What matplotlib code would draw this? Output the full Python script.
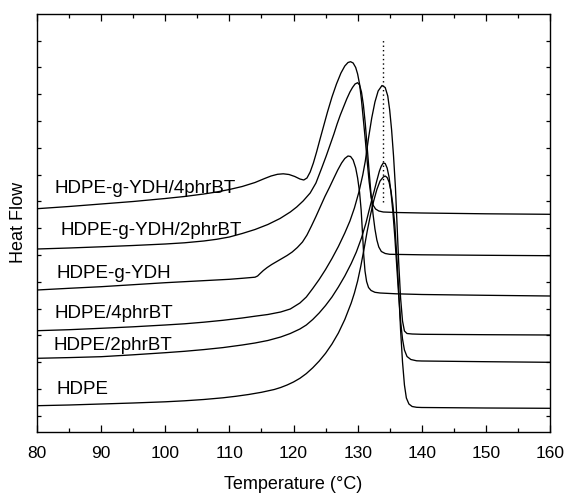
import matplotlib
matplotlib.use("Agg")
import matplotlib.pyplot as plt
import numpy as np
from matplotlib.ticker import MultipleLocator

plt.rcParams['font.family'] = ['Liberation Sans', 'DejaVu Sans']

# ---- data (temperature in degC, heat flow in arbitrary units) ----
T_ydh4 = [80, 85, 90, 95, 100, 103, 106, 108, 110, 112, 114, 115.5, 116.5, 117.5, 118.4, 119.3,
          120.2, 121, 121.6, 122.1, 122.6, 123.1, 123.6, 124.1, 124.7, 125.3, 126.0, 126.7,
          127.4, 128.0, 128.5, 128.9, 129.3, 129.7, 130.0, 130.3, 130.6, 130.9, 131.2, 131.5,
          131.8, 132.1, 132.4, 132.8, 133.3, 134, 136, 140, 150, 160]
H_ydh4 = [207.3, 209.5, 212, 214.5, 217.5, 219.5, 222, 224, 226.5, 229.5, 233.5, 237.5, 240, 241.7,
          242.2, 241.5, 239.5, 237, 236, 238, 244, 253, 264, 276, 290, 304, 319, 332,
          343, 350, 353.5, 354.3, 353, 348.5, 342, 332, 316, 296, 276, 254,
          234, 219, 211, 207, 205, 204, 203.5, 203, 202.2, 201.7]

T_ydh2 = [80, 85, 90, 95, 100, 103, 106, 108, 110, 112, 114, 116, 117.9, 119.5, 120.5, 121.5,
          122.6, 123.5, 124.4, 125.1, 125.7, 126.3, 126.8, 127.3, 127.8, 128.3, 128.8, 129.2,
          129.6, 130.0, 130.3, 130.6, 130.9, 131.2, 131.5, 131.8, 132.1, 132.4, 132.7, 133.0,
          133.3, 133.7, 134.3, 135, 140, 150, 160]
H_ydh2 = [167, 168, 169.2, 170.5, 172, 173.2, 175, 176.7, 179, 182.5, 186.5, 191.5, 197.5, 204, 209, 215,
          223, 233, 248, 260, 271, 282, 292, 301, 309, 317, 324, 328.5,
          332, 333.3, 331, 324, 311, 292, 268, 244, 221, 202, 187, 176,
          169, 164.5, 162.5, 161.7, 161.2, 160.7, 160.3]

T_ydh = [80, 85, 90, 95, 100, 105, 110, 112, 114, 114.4, 114.8, 115.3, 115.9, 116.6, 117.4, 118.2,
         119, 119.8, 120.6, 121.4, 122.1, 122.8, 123.5, 124.2, 124.9, 125.6, 126.3, 126.9,
         127.5, 128.0, 128.5, 128.9, 129.3, 129.7, 130.0, 130.3, 130.55, 130.75, 130.95, 131.15,
         131.4, 131.7, 132.1, 132.7, 133.5, 136, 140, 150, 160]
H_ydh = [126, 127.7, 129.3, 131.3, 133.3, 135, 136.7, 137.7, 138.8, 140, 142.5, 145.5, 148.5, 151.5, 154.5, 157.5,
         160.5, 164, 168.5, 174, 181, 190, 199.5, 209.5, 219.5, 228.5, 238, 246,
         253, 257.5, 260, 259.5, 256, 248, 238, 224, 206, 184, 161, 145,
         134.5, 128.5, 125.5, 123.7, 123, 122.2, 121.5, 120.7, 120]

T_bt4 = [80, 85, 90, 95, 100, 103, 106, 109, 112, 114, 116, 118, 119.5, 121, 122, 123, 124, 125,
         126, 127, 128, 128.8, 129.5, 130.2, 130.8, 131.2, 131.7, 132.2, 132.7, 133.2, 133.8,
         134.3, 134.7, 135.0, 135.3, 135.6, 135.9, 136.15, 136.4, 136.7, 137.0, 137.3, 137.7,
         138.5, 140, 150, 160]
H_bt4 = [85.3, 86.3, 87.7, 89.2, 91, 92.2, 93.8, 95.7, 98, 99.8, 101.5, 104, 107, 113, 119, 127.5, 136.5, 146.5,
         157.5, 169.5, 183, 195, 208, 224, 241, 255, 278, 298, 314, 325, 330.5,
         328.5, 320, 306, 286, 260, 228, 191, 154, 118, 95, 85, 82.5,
         82, 81.7, 81.3, 81]

T_bt2 = [80, 85, 90, 95, 100, 103, 106, 109, 112, 114, 116, 118, 119.5, 121, 122, 123, 124, 125,
         126, 127, 128, 129, 129.8, 130.6, 131.3, 131.8, 132.2, 132.6, 133.0, 133.4, 133.7,
         134.0, 134.3, 134.6, 134.9, 135.2, 135.5, 135.8, 136.1, 136.4, 136.7, 137.0, 137.3,
         137.7, 138.3, 139.2, 140, 150, 160]
H_bt2 = [57.7, 58.4, 59.3, 61.2, 63.3, 64.7, 66.4, 68.4, 71, 73, 75.5, 79, 82.5, 87, 91, 96.5, 103, 110.5,
         119, 129, 140, 152.5, 164, 178, 193, 206, 216, 225.5, 235.5, 245, 250,
         253, 252.5, 248, 239, 224, 204, 179, 150, 121, 95, 77, 66,
         59.5, 56.5, 55.2, 55, 54.3, 53.7]

T_hdpe = [80, 85, 90, 95, 100, 103, 106, 109, 111, 113, 115, 117, 118, 119, 120, 121, 122, 123,
          124, 125, 126, 127, 128, 129, 129.5, 130, 130.5, 131, 131.5, 132, 132.5, 133, 133.5,
          134, 134.3, 134.6, 134.9, 135.2, 135.5, 135.8, 136.1, 136.4, 136.7, 137.0, 137.3,
          137.6, 138.0, 138.5, 139.2, 140, 150, 160]
H_hdpe = [10.3, 11, 12, 13, 14.2, 15.2, 16.5, 18.2, 19.7, 21.5, 23.7, 26.5, 28.5, 31, 34, 37.7, 42.4, 48.2,
          54.9, 62.7, 72, 83, 96.5, 113, 123, 135, 150, 167, 185, 201, 215, 226.5, 235,
          239, 240, 238.5, 234, 225, 211, 191, 161, 126, 86, 54, 31,
          18, 12, 9.5, 8.7, 8.5, 8, 7.7]

curves = [(T_ydh4, H_ydh4), (T_ydh2, H_ydh2), (T_ydh, H_ydh),
          (T_bt4, H_bt4), (T_bt2, H_bt2), (T_hdpe, H_hdpe)]

labels = ["HDPE-g-YDH/4phrBT", "HDPE-g-YDH/2phrBT", "HDPE-g-YDH",
          "HDPE/4phrBT", "HDPE/2phrBT", "HDPE"]
label_T = [82.8, 83.6, 83.1, 82.8, 82.5, 83.1]
label_H = [222.7, 181, 138, 98, 66, 22]

peak_T = 133.9
peak_line = [214.3, 376]

x_ticks = [80, 90, 100, 110, 120, 130, 140, 150, 160]

# ---- figure ----
fig = plt.figure(figsize=(5.70, 4.94), dpi=100)
ax = fig.add_axes([37/570, 1-431.7/494, 513/570, 417.7/494])

for T, H in curves:
    ax.plot(T, H, color='black', lw=0.95, solid_joinstyle='round')

ax.plot([peak_T, peak_T], peak_line, color='black', lw=1.0, linestyle=(0, (1, 2.2)))

for lab, tx, hy in zip(labels, label_T, label_H):
    ax.text(tx, hy, lab, fontsize=13.5, va='baseline', ha='left')

ax.set_xlim(80, 160)
ax.set_ylim(416-431.7, 416-14)
ax.set_xticks(x_ticks)
ax.xaxis.set_minor_locator(MultipleLocator(5))
ax.set_yticks(np.arange(0.3, 400, 26.79))
ax.set_yticklabels([])
ax.tick_params(axis='both', which='major', direction='in', length=5, width=0.9,
               top=True, right=True, labelsize=12.5, pad=10)
ax.tick_params(axis='y', which='major', length=3)
ax.tick_params(axis='x', which='minor', direction='in', length=3, width=0.9, top=True)
for s in ax.spines.values():
    s.set_linewidth(1.0)

ax.set_xlabel('Temperature (°C)', fontsize=13, labelpad=11)
ax.set_ylabel('Heat Flow', fontsize=13)
ax.yaxis.set_label_coords(-0.02, 0.5)

fig.savefig('out.png', dpi=100)
